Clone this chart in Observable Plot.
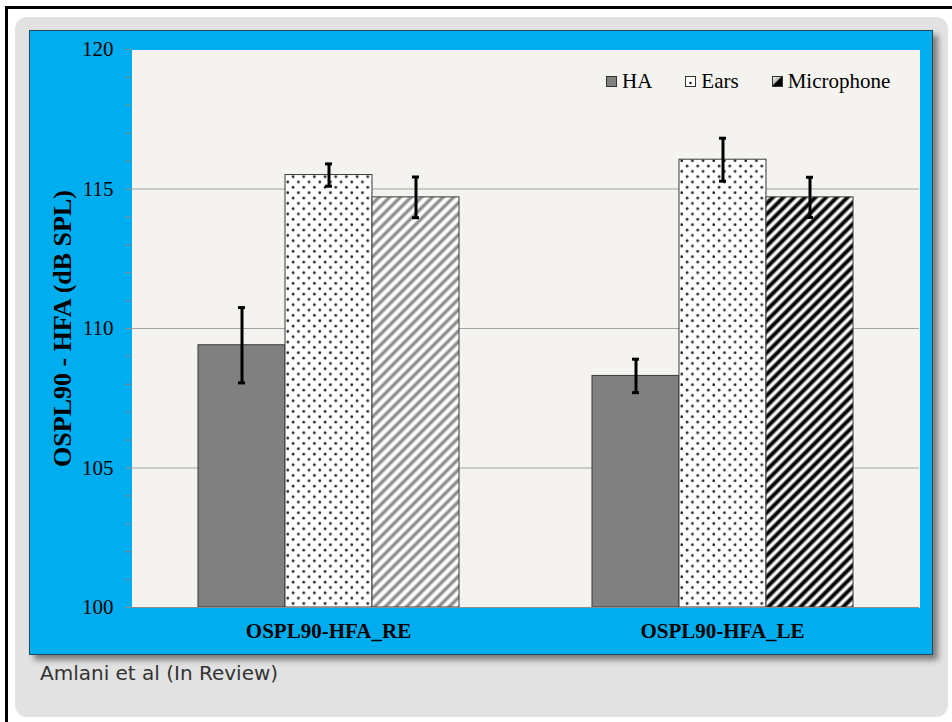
<!DOCTYPE html>
<html>
<head>
<meta charset="utf-8">
<script src="https://cdn.jsdelivr.net/npm/d3@7"></script>
<script src="https://cdn.jsdelivr.net/npm/@observablehq/plot@0.6"></script>
<style>
  html, body { margin: 0; padding: 0; background: #fff; }
  body { width: 952px; height: 722px; position: relative; overflow: hidden; }
  #rule { position: absolute; left: 5px; top: 6px; width: 960px; height: 730px;
          border-top: 3px solid #000; border-left: 3px solid #000; }
  #card { position: absolute; left: 15px; top: 17px; width: 933px; height: 700px;
          background: #e2e2e2; border-radius: 12px; }
  #panel { position: absolute; left: 29px; top: 30px; width: 904px; height: 625px;
           background: #00aeef; box-sizing: border-box; border: 1px solid #24475a;
           box-shadow: 5px 5px 6px rgba(0,0,0,0.45); }
  #chart { position: absolute; left: 29px; top: 30px; }
  #legend { position: absolute; left: 606px; top: 71px; display: flex; align-items: center;
            font-family: "Liberation Serif", serif; font-size: 21px; line-height: 21px; color: #000; }
  #legend .item { display: flex; align-items: center; margin-right: 33px; }
  #legend svg { margin-right: 5px; display: block; }
  #caption { position: absolute; left: 40px; top: 661px; font-family: "DejaVu Sans", sans-serif;
             font-size: 20px; color: #333; white-space: nowrap; }
  #defs { position: absolute; width: 0; height: 0; }
</style>
</head>
<body>
<div id="rule"></div>
<div id="card"></div>
<div id="panel"></div>
<svg id="defs" width="0" height="0">
  <defs>
    <pattern id="dots" patternUnits="userSpaceOnUse" width="10.67" height="10.67">
      <rect width="10.67" height="10.67" fill="#fff"></rect>
      <circle cx="2.67" cy="2.67" r="1.35" fill="#262626"></circle>
      <circle cx="8" cy="8" r="1.35" fill="#262626"></circle>
    </pattern>
    <linearGradient id="stripeGray" x1="0" x2="1" y1="0" y2="0">
      <stop offset="0" stop-color="#fff"></stop>
      <stop offset="0.15" stop-color="#fff"></stop>
      <stop offset="0.4" stop-color="#8c8c8c"></stop>
      <stop offset="0.6" stop-color="#8c8c8c"></stop>
      <stop offset="0.85" stop-color="#fff"></stop>
      <stop offset="1" stop-color="#fff"></stop>
    </linearGradient>
    <linearGradient id="stripeBlack" x1="0" x2="1" y1="0" y2="0">
      <stop offset="0" stop-color="#fff"></stop>
      <stop offset="0.12" stop-color="#fff"></stop>
      <stop offset="0.36" stop-color="#000"></stop>
      <stop offset="0.64" stop-color="#000"></stop>
      <stop offset="0.88" stop-color="#fff"></stop>
      <stop offset="1" stop-color="#fff"></stop>
    </linearGradient>
    <pattern id="stripes-gray" patternUnits="userSpaceOnUse" width="7.54" height="7.54" patternTransform="rotate(45)">
      <rect width="7.54" height="7.54" fill="url(#stripeGray)"></rect>
    </pattern>
    <pattern id="stripes-black" patternUnits="userSpaceOnUse" width="7.54" height="7.54" patternTransform="rotate(45)">
      <rect width="7.54" height="7.54" fill="url(#stripeBlack)"></rect>
    </pattern>
    <linearGradient id="micSwatch" x1="0" y1="0" x2="1" y2="1">
      <stop offset="0" stop-color="#fff"></stop>
      <stop offset="0.4" stop-color="#bbb"></stop>
      <stop offset="0.52" stop-color="#000"></stop>
      <stop offset="1" stop-color="#000"></stop>
    </linearGradient>
  </defs>
</svg>
<div id="chart"></div>
<div id="legend"></div>
<div id="caption"></div>
<script>
// Groups (ear side) and series (measurement condition)
const groups = ["OSPL90-HFA_RE", "OSPL90-HFA_LE"];
const series = ["HA", "Ears", "Microphone"];

// Mean OSPL90-HFA (dB SPL) per group, and error half-widths
const haMean = [109.4, 108.3];
const haErr = [1.35, 0.6];
const earsMean = [115.5, 116.05];
const earsErr = [0.4, 0.77];
const micMean = [114.7, 114.7];
const micErr = [0.73, 0.72];

// Axis
const yDomain = [100, 120];
const yTicks = d3.range(100, 121, 1);
const yLabelled = [100, 105, 110, 115, 120];
const gridValues = [105, 110, 115];
const yTitle = "OSPL90 - HFA (dB SPL)";
const caption = "Amlani et al (In Review)";

const means = [haMean, earsMean, micMean];
const errs = [haErr, earsErr, micErr];

const rows = groups.flatMap((g, i) =>
  series.map((s, j) => ({group: g, gi: i, series: s, mean: means[j][i], err: errs[j][i]}))
);

// Fill styles: solid gray, dotted, and diagonal stripes (gray on the right ear, black on the left)
function fillFor(d) {
  if (d.series === "HA") return "#808080";
  if (d.series === "Ears") return "url(#dots)";
  return d.gi === 0 ? "url(#stripes-gray)" : "url(#stripes-black)";
}

const chart = Plot.plot({
  width: 904,
  height: 625,
  marginLeft: 102,
  marginRight: 14,
  marginTop: 19,
  marginBottom: 48,
  style: {background: "transparent", fontFamily: "'Liberation Serif', serif", fontSize: "21px", color: "#000", overflow: "visible"},
  fx: {domain: groups, padding: 0, label: null},
  x: {domain: series, paddingInner: 0, paddingOuter: 0.756, axis: null},
  y: {domain: yDomain},
  color: {type: "identity"},
  marks: [
    Plot.frame({fill: "#f4f3ef", stroke: null, shapeRendering: "crispEdges"}),
    Plot.ruleY(gridValues, {stroke: "#a3a3a3", strokeWidth: 1}),
    Plot.barY(rows, {fx: "group", x: "series", y1: yDomain[0], y2: "mean", fill: fillFor, stroke: "#3a3a3a", strokeWidth: 1}),
    Plot.ruleX(rows, {fx: "group", x: "series", y1: d => d.mean - d.err, y2: d => d.mean + d.err, stroke: "#000", strokeWidth: 3}),
    Plot.tickY(rows, {fx: "group", x: "series", y: d => d.mean - d.err, insetLeft: 40, insetRight: 40, stroke: "#000", strokeWidth: 3}),
    Plot.tickY(rows, {fx: "group", x: "series", y: d => d.mean + d.err, insetLeft: 40, insetRight: 40, stroke: "#000", strokeWidth: 3}),
    Plot.ruleY([yDomain[0]], {stroke: "#8c8c8c", strokeWidth: 1}),
    Plot.axisY({ticks: yTicks, tickSize: 6, tickPadding: 12, tickFormat: d => yLabelled.includes(d) ? d : "", stroke: "#8c8c8c", fill: "#000", label: null}),
    Plot.axisFx({anchor: "bottom", tickSize: 0, tickPadding: 16, fontWeight: "bold", fill: "#000", label: null}),
    Plot.text([yTitle], {fx: () => groups[0], text: d => d, frameAnchor: "left", textAnchor: "middle", rotate: -90, dx: -69, fontSize: 26, fontWeight: "bold", fill: "#000"})
  ]
});
document.getElementById("chart").append(chart);

// Legend
const swatches = {
  HA: '<rect x="0.5" y="0.5" width="10" height="10" fill="#808080" stroke="#333"/>',
  Ears: '<rect x="0.5" y="0.5" width="10" height="10" fill="#fff" stroke="#333"/><circle cx="5.5" cy="7" r="1.3" fill="#222"/>',
  Microphone: '<rect x="0.5" y="0.5" width="10" height="10" fill="url(#micSwatch)" stroke="#333"/>'
};
const legend = document.getElementById("legend");
for (const s of series) {
  const item = document.createElement("div");
  item.className = "item";
  item.innerHTML = `<svg width="11" height="11">${swatches[s]}</svg><span>${s}</span>`;
  legend.append(item);
}
document.getElementById("caption").textContent = caption;
</script>
</body>
</html>
